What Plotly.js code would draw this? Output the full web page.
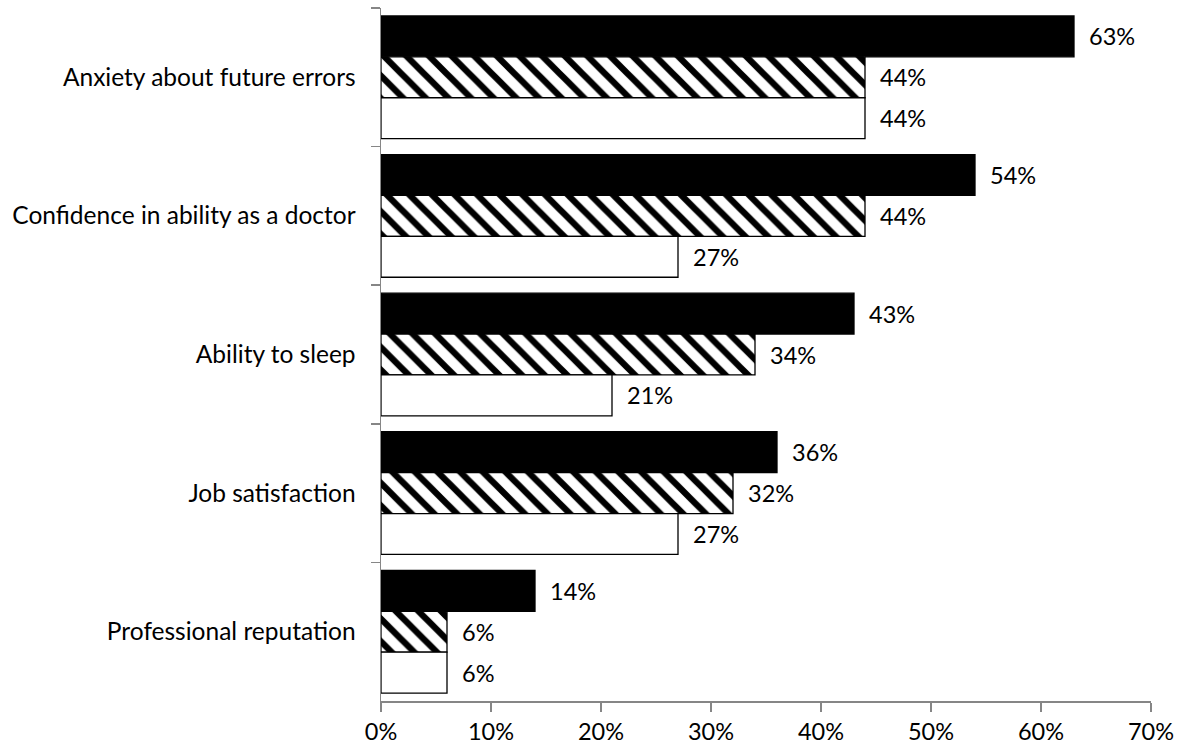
<!DOCTYPE html>
<html>
<head>
<meta charset="utf-8">
<script src="https://cdn.plot.ly/plotly-3.0.1.min.js"></script>
<style>html,body{margin:0;padding:0;background:#fff;}#chart{width:1184px;height:753px;}</style>
</head>
<body>
<div id="chart"></div>
<script>
const categories = [
  "Anxiety about future errors",
  "Confidence in ability as a doctor",
  "Ability to sleep",
  "Job satisfaction",
  "Professional reputation"
];
const seriesBlack = [63, 54, 43, 36, 14];
const seriesHatched = [44, 44, 34, 32, 6];
const seriesWhite = [44, 27, 21, 27, 6];
const xTickValues = [0, 10, 20, 30, 40, 50, 60, 70];
const xTickLabels = ["0%", "10%", "20%", "30%", "40%", "50%", "60%", "70%"];

const FONT = "Lato, 'Open Sans', sans-serif";
const FS = 24.5;
const VFS = 23.5;
const lbl = "\u00a0\u00a0%{x}%";

function trace(vals, fill, pattern) {
  const t = {
    type: "bar",
    orientation: "h",
    y: categories,
    x: vals,
    texttemplate: lbl,
    textposition: "outside",
    cliponaxis: false,
    textfont: {family: FONT, size: VFS, color: "#000"},
    marker: {color: fill, line: {color: "#000", width: 1.3}},
    hoverinfo: "skip"
  };
  if (pattern) t.marker.pattern = pattern;
  return t;
}

const data = [
  trace(seriesBlack, "#000"),
  trace(seriesHatched, "#fff", {shape: "\\", fgcolor: "#000", bgcolor: "#fff", size: 16, solidity: 0.4}),
  trace(seriesWhite, "#fff")
];

const layout = {
  width: 1184, height: 753,
  margin: {l: 381, r: 33, t: 8, b: 52},
  paper_bgcolor: "#fff", plot_bgcolor: "#fff",
  showlegend: false,
  barmode: "group",
  bargap: 0.115,
  bargroupgap: 0,
  font: {family: FONT, size: FS, color: "#000"},
  xaxis: {
    range: [0, 70],
    tickvals: xTickValues,
    ticktext: xTickLabels,
    showgrid: false, zeroline: false,
    showline: true, linecolor: "#868686", linewidth: 1.5,
    ticks: "outside", ticklen: 9, tickcolor: "#868686", tickwidth: 1.5,
    ticklabelstandoff: 0,
    tickfont: {family: FONT, size: VFS, color: "#000"},
    fixedrange: true
  },
  yaxis: {
    type: "category",
    autorange: "reversed",
    showgrid: false, zeroline: false,
    showline: true, linecolor: "#868686", linewidth: 1.5,
    ticks: "outside", ticklen: 9, tickcolor: "#868686", tickwidth: 1.5,
    tickson: "boundaries",
    ticklabelstandoff: 19,
    tickfont: {family: FONT, size: FS, color: "#000"},
    fixedrange: true
  }
};

Plotly.newPlot("chart", data, layout, {displayModeBar: false, staticPlot: true});
</script>
</body>
</html>
